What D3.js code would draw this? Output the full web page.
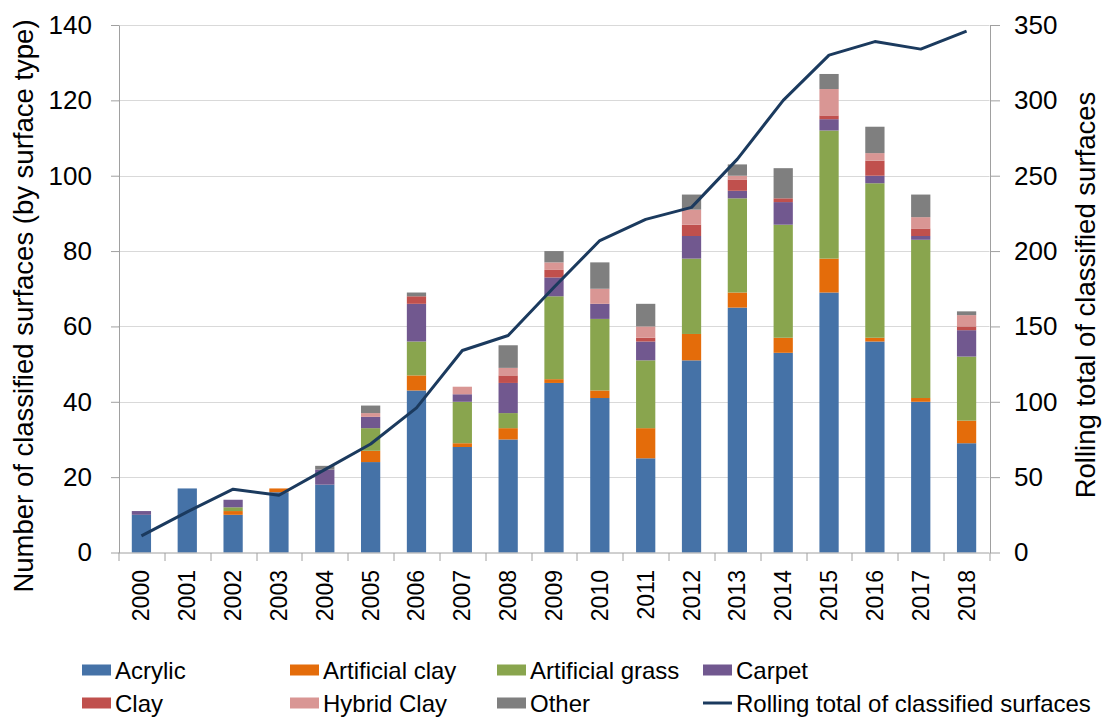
<!DOCTYPE html>
<html>
<head>
<meta charset="utf-8">
<script src="https://cdn.jsdelivr.net/npm/d3@7"></script>
<style>
	body { margin: 0; background: #fff; }
	svg { display: block; font-family: "Liberation Sans", Arial, sans-serif; }
</style>
</head>
<body>
<figure id="surfaceChart" style="margin:0"></figure>
<script>
// chart data
const years = ["2000", "2001", "2002", "2003", "2004", "2005", "2006", "2007", "2008", "2009",
	"2010", "2011", "2012", "2013", "2014", "2015", "2016", "2017", "2018"];
const acrylic        = [10, 17, 10, 16, 18, 24, 43, 28, 30, 45, 41, 25, 51, 65, 53, 69, 56, 40, 29];
const artificialClay = [0, 0, 1, 1, 0, 3, 4, 1, 3, 1, 2, 8, 7, 4, 4, 9, 1, 1, 6];
const artificialGrass= [0, 0, 1, 0, 0, 6, 9, 11, 4, 22, 19, 18, 20, 25, 30, 34, 41, 42, 17];
const carpet         = [1, 0, 2, 0, 4, 3, 10, 2, 8, 5, 4, 5, 6, 2, 6, 3, 2, 1, 7];
const clay           = [0, 0, 0, 0, 0, 0, 2, 0, 2, 2, 0, 1, 3, 3, 1, 1, 4, 2, 1];
const hybridClay     = [0, 0, 0, 0, 0, 1, 0, 2, 2, 2, 4, 3, 4, 1, 0, 7, 2, 3, 3];
const other          = [0, 0, 0, 0, 1, 2, 1, 0, 6, 3, 7, 6, 4, 3, 8, 4, 7, 6, 1];
const rollingTotal   = [11, 27, 42, 38, 55, 72, 96, 134, 144, 176, 207, 221, 229, 261, 300, 330, 339, 334, 346];

const seriesNames = ["Acrylic", "Artificial clay", "Artificial grass", "Carpet", "Clay", "Hybrid Clay", "Other"];
const seriesValues = [acrylic, artificialClay, artificialGrass, carpet, clay, hybridClay, other];
const seriesColors = ["#4572a7", "#e46c0a", "#89a54e", "#71588f", "#c0504d", "#d99694", "#7f7f7f"];
const lineName = "Rolling total of classified surfaces";
const lineColor = "#1b3a5e";

const leftTicks = [0, 20, 40, 60, 80, 100, 120, 140];
const rightTicks = [0, 50, 100, 150, 200, 250, 300, 350];

const W = 1106, H = 718;
const margin = { top: 25, bottom: 165.5, left: 118.5, right: 116.5 };
const width = W - margin.left - margin.right;
const height = H - margin.top - margin.bottom;
const axisColor = "#a0a0a0";
const gridColor = "#d9d9d9";

const svg = d3.select("figure#surfaceChart").append("svg")
	.attr("width", W).attr("height", H).attr("viewBox", `0 0 ${W} ${H}`);
const g = svg.append("g").attr("transform", "translate(" + margin.left + "," + margin.top + ")");

// scales
const xScale = d3.scaleBand().domain(years).range([0, width]).paddingInner(0.58).paddingOuter(0.29);
const yScale = d3.scaleLinear().domain([0, 140]).range([height, 0]);
const y2Scale = d3.scaleLinear().domain([0, 350]).range([height, 0]);

// gridlines
g.append("g").selectAll("line").data(leftTicks.slice(1)).enter().append("line")
	.attr("x1", 0).attr("x2", width)
	.attr("y1", (d) => Math.round(yScale(d)) + 0.5).attr("y2", (d) => Math.round(yScale(d)) + 0.5)
	.attr("stroke", gridColor).attr("stroke-width", 1);

// stacked bars
const table = years.map((yr, i) => {
	const row = { year: yr };
	seriesNames.forEach((n, k) => row[n] = seriesValues[k][i]);
	return row;
});
const stacked = d3.stack().keys(seriesNames)(table);
g.append("g").selectAll("g").data(stacked).enter().append("g")
	.attr("fill", (d, k) => seriesColors[k])
	.selectAll("rect").data((d) => d).enter().append("rect")
	.attr("x", (d) => xScale(d.data.year))
	.attr("width", xScale.bandwidth())
	.attr("y", (d) => yScale(d[1]))
	.attr("height", (d) => yScale(d[0]) - yScale(d[1]));

// rolling total line
const lineGen = d3.line()
	.x((d, i) => xScale(years[i]) + xScale.bandwidth() / 2)
	.y((d) => y2Scale(d));
g.append("path").attr("d", lineGen(rollingTotal))
	.attr("fill", "none").attr("stroke", lineColor).attr("stroke-width", 3).attr("stroke-linejoin", "round");

// left axis
const yAxis = g.append("g").call(d3.axisLeft(yScale).tickValues(leftTicks).tickSizeInner(8).tickSizeOuter(0).tickPadding(19));
yAxis.attr("transform", "translate(0.5,0)");
yAxis.selectAll(".tick text").attr("font-size", 26).attr("fill", "#000").attr("font-family", "Liberation Sans, Arial, sans-serif");
yAxis.selectAll(".tick line").attr("stroke", axisColor);
yAxis.select(".domain").attr("stroke", axisColor);

// right axis
const y2Axis = g.append("g").call(d3.axisRight(y2Scale).tickValues(rightTicks).tickSizeInner(10).tickSizeOuter(0).tickPadding(14));
y2Axis.attr("transform", "translate(" + (width + 0.5) + ",0)");
y2Axis.selectAll(".tick text").attr("font-size", 26).attr("fill", "#000").attr("font-family", "Liberation Sans, Arial, sans-serif");
y2Axis.selectAll(".tick line").attr("stroke", axisColor);
y2Axis.select(".domain").attr("stroke", axisColor);

// x axis: ticks between categories, rotated labels
const xAxis = g.append("g").attr("transform", "translate(0," + (height + 0.5) + ")");
xAxis.append("line").attr("x1", 0).attr("x2", width).attr("stroke", axisColor);
const bounds = d3.range(years.length + 1).map((i) => i * xScale.step());
xAxis.selectAll("line.tick").data(bounds).enter().append("line")
	.attr("class", "tick")
	.attr("x1", (d) => Math.round(d) + 0.5).attr("x2", (d) => Math.round(d) + 0.5)
	.attr("y1", 0).attr("y2", 8).attr("stroke", axisColor);
xAxis.selectAll("text").data(years).enter().append("text")
	.attr("transform", (d) => "translate(" + (xScale(d) + xScale.bandwidth() / 2 + 8) + ",17) rotate(-90)")
	.attr("text-anchor", "end")
	.attr("font-size", 23)
	.text((d) => d);

// axis titles
svg.append("text")
	.attr("transform", "translate(33,306) rotate(-90)")
	.attr("text-anchor", "middle").attr("font-size", 27.5)
	.text("Number of classified surfaces (by surface type)");
svg.append("text")
	.attr("transform", "translate(1095,295) rotate(-90)")
	.attr("text-anchor", "middle").attr("font-size", 27.5)
	.text(lineName);

// legend
const legendCols = [82, 290, 497, 703];
const legendRows = [670, 703];
const legendItems = seriesNames.map((n, k) => ({ name: n, color: seriesColors[k], type: "rect" }));
legendItems.push({ name: lineName, color: lineColor, type: "line" });
const legend = svg.append("g");
legendItems.forEach((item, i) => {
	const lx = legendCols[i % 4];
	const ly = legendRows[Math.floor(i / 4)];
	if (item.type == "rect") {
		legend.append("rect").attr("x", lx).attr("y", ly - 5.5).attr("width", 29).attr("height", 11).attr("fill", item.color);
	} else {
		legend.append("line").attr("x1", lx).attr("x2", lx + 29).attr("y1", ly).attr("y2", ly)
			.attr("stroke", item.color).attr("stroke-width", 3);
	}
	legend.append("text").attr("x", lx + 33).attr("y", ly + 8.5).attr("font-size", 24).text(item.name);
});
</script>
</body>
</html>
